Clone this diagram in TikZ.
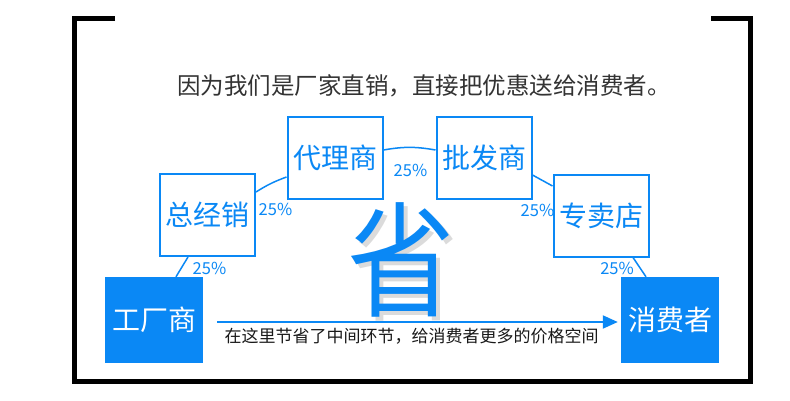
\documentclass[tikz,border=0pt]{standalone}
\usepackage{fontspec}
\setmainfont{Noto Sans CJK SC}
\usepackage{tikz}
\usetikzlibrary{arrows.meta,positioning,calc}
\definecolor{sblue}{RGB}{10,136,245}
\definecolor{titlegray}{RGB}{51,51,51}
\definecolor{notegray}{RGB}{25,25,25}

\begin{document}
\begin{tikzpicture}[x=1pt, y=-1pt,
  stagebox/.style={draw=sblue, line width=2pt, fill=white, minimum width=95pt, minimum height=82pt, inner sep=0pt, font=\fontsize{28}{28}\selectfont, text=sblue},
  endbox/.style={fill=sblue, minimum width=98pt, minimum height=86pt, inner sep=0pt, font=\fontsize{28}{28}\selectfont, text=white},
  link/.style={draw=sblue, line width=1.5pt},
  pct/.style={font=\fontsize{16.5}{16.5}\selectfont, text=sblue, inner sep=0pt},
  bigchar/.style={font=\fontsize{125}{125}\selectfont, xscale=0.86, inner sep=0pt}]
\useasboundingbox (0,0) rectangle (790,400);
\fill[white] (0,0) rectangle (790,400);

% Frame
\draw[line width=5pt, line join=miter] (115,18.5) -- (74,18.5) -- (74,381) -- (750,381) -- (750,18.5) -- (711,18.5);

% Title
\node[font=\fontsize{23.5}{23.5}\selectfont, text=titlegray] (title) at (424,86) {因为我们是厂家直销，直接把优惠送给消费者。};

% Big character with soft shadow
\node[bigchar, text=black, opacity=0.14] (shadow) at (405,264) {省};
\node[bigchar, text=sblue] (sheng) at (401,260) {省};

% Stages
\node[endbox] (fac) at (154,320) {工厂商};
\node[stagebox] (zjx) at (207.5,215) {总经销};
\node[stagebox] (dl) at (335,157.5) {代理商};
\node[stagebox] (pf) at (484,157.5) {批发商};
\node[stagebox] (zmd) at (601,215.5) {专卖店};
\node[endbox] (xf) at (670,320) {消费者};

% Links between stages
\draw[link] ([xshift=22pt]fac.north) -- ([xshift=-19.5pt]zjx.south);
\draw[link] ([yshift=-19pt]zjx.north east) to[bend left=6] ([yshift=-19.5pt]dl.west);
\draw[link] ([yshift=7.5pt]dl.east) to[bend left=10] ([yshift=7.5pt]pf.west);
\draw[link] ([yshift=-17.5pt]pf.east) -- ([yshift=29.5pt]zmd.west);
\draw[link] ([xshift=32pt]zmd.south) -- ([xshift=-24pt]xf.north);

% Percentages
\node[pct] (p1) at (209.5,268) {25\%};
\node[pct] (p2) at (275.5,209) {25\%};
\node[pct] (p3) at (410.5,170) {25\%};
\node[pct] (p4) at (537.5,210.5) {25\%};
\node[pct] (p5) at (617,268.5) {25\%};

% Shortcut arrow
\draw[sblue, line width=2pt, -{Triangle[length=15pt, width=13pt]}] ([xshift=14pt, yshift=-2pt]fac.east) -- ([xshift=-3pt, yshift=-2pt]xf.west);
\node[font=\fontsize{17}{17}\selectfont, text=notegray] (note) at (411.5,336) {在这里节省了中间环节，给消费者更多的价格空间};
\end{tikzpicture}
\end{document}
